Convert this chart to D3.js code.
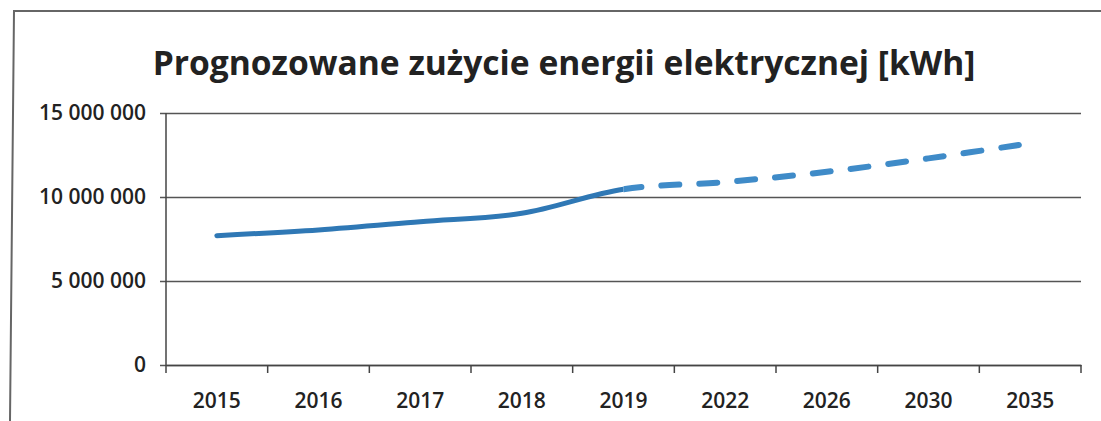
<!DOCTYPE html>
<html>
<head>
<meta charset="utf-8">
<script src="https://cdn.jsdelivr.net/npm/d3@7"></script>
<style>
  body { margin: 0; background: #fff; }
  svg text { font-family: "Open Sans", "Noto Sans", sans-serif; fill: #222; }
</style>
</head>
<body>
<svg id="chart" width="1101" height="421"></svg>
<script>
var years = ["2015", "2016", "2017", "2018", "2019", "2022", "2026", "2030", "2035"];
var usage = [7700000, 8040000, 8530000, 9030000, 10460000, 10890000, 11500000, 12300000, 13200000];
var lastActual = "2019";
var yTicks = [0, 5000000, 10000000, 15000000];
var title = "Prognozowane zużycie energii elektrycznej [kWh]";

var svg = d3.select("#chart");
var margin = {left: 166, right: 20, top: 113, bottom: 56};
var width = 1081 - margin.left;
var height = 365 - margin.top;

// ramka wykresu
svg.append("path")
    .attr("d", "M1101,11 L14,11 L10,421")
    .attr("fill", "none")
    .attr("stroke", "#666")
    .attr("stroke-width", 2);

var t = svg.append("text")
    .attr("x", 564)
    .attr("y", 75)
    .attr("text-anchor", "middle")
    .attr("font-weight", "bold")
    .attr("font-size", 34)
    .text(title);
var tw = t.node().getComputedTextLength();
t.attr("font-size", 34 * 823 / tw);

var x = d3.scaleBand().domain(years).range([0, width]);
var y = d3.scaleLinear().domain([0, 15000000]).range([height, 0]);

var g = svg.append("g").attr("transform", "translate(" + margin.left + "," + margin.top + ")");

var fmt = function(d) { return d3.format(",")(d).replace(/,/g, " "); };

var yAxis = g.append("g")
    .call(d3.axisLeft(y).tickValues(yTicks).tickSize(-width).tickSizeOuter(0).tickPadding(20).tickFormat(fmt));
yAxis.select(".domain").remove();
yAxis.selectAll(".tick line")
    .attr("x1", -6)
    .attr("stroke", "#555")
    .attr("stroke-width", 1.5);
yAxis.selectAll("text").attr("font-size", 21).attr("font-weight", 600).attr("fill", "#222");

g.append("line")
    .attr("x1", 0).attr("x2", 0)
    .attr("y1", 0).attr("y2", height + 8)
    .attr("stroke", "#444").attr("stroke-width", 1.5);

var xAxis = g.append("g")
    .attr("transform", "translate(0," + height + ")")
    .call(d3.axisBottom(x).tickSize(0).tickPadding(28));
xAxis.select(".domain").attr("stroke", "#444").attr("stroke-width", 1.5);
xAxis.selectAll("text").attr("font-size", 21).attr("font-weight", 600).attr("fill", "#222");

// podziałki między kategoriami
g.append("g").selectAll("line")
    .data(years.slice(1).concat(["end"]))
    .join("line")
    .attr("x1", function(d) { return d == "end" ? width : x(d); })
    .attr("x2", function(d) { return d == "end" ? width : x(d); })
    .attr("y1", height)
    .attr("y2", height + 8)
    .attr("stroke", "#444")
    .attr("stroke-width", 1.5);

var pts = years.map(function(d, i) { return [x(d) + x.bandwidth() / 2, y(usage[i])]; });
var line = d3.line().curve(d3.curveCardinal.tension(0));
var splitX = x(lastActual) + x.bandwidth() / 2;

var defs = svg.append("defs");
defs.append("clipPath").attr("id", "clipA")
    .append("rect").attr("x", -10).attr("y", -50).attr("width", splitX + 10).attr("height", height + 100);
defs.append("clipPath").attr("id", "clipB")
    .append("rect").attr("x", splitX).attr("y", -50).attr("width", width).attr("height", height + 100);

g.append("path")
    .attr("d", line(pts))
    .attr("clip-path", "url(#clipA)")
    .attr("fill", "none")
    .attr("stroke", "#2f78b5")
    .attr("stroke-width", 5)
    .attr("stroke-linecap", "round");

// prognoza - linia przerywana od 2019
g.append("path")
    .attr("d", line(pts))
    .attr("clip-path", "url(#clipB)")
    .attr("fill", "none")
    .attr("stroke", "#3f8bc8")
    .attr("stroke-width", 6)
    .attr("stroke-linecap", "round")
    .each(function() {
        // przesunięcie wzoru kresek tak, by zaczynał się w punkcie 2019
        var node = this, total = node.getTotalLength(), lo = 0, hi = total;
        for (var k = 0; k < 40; k++) {
            var mid = (lo + hi) / 2;
            if (node.getPointAtLength(mid).x < splitX) lo = mid; else hi = mid;
        }
        d3.select(node).attr("stroke-dasharray", "18 20").attr("stroke-dashoffset", -lo);
    });
</script>
</body>
</html>
